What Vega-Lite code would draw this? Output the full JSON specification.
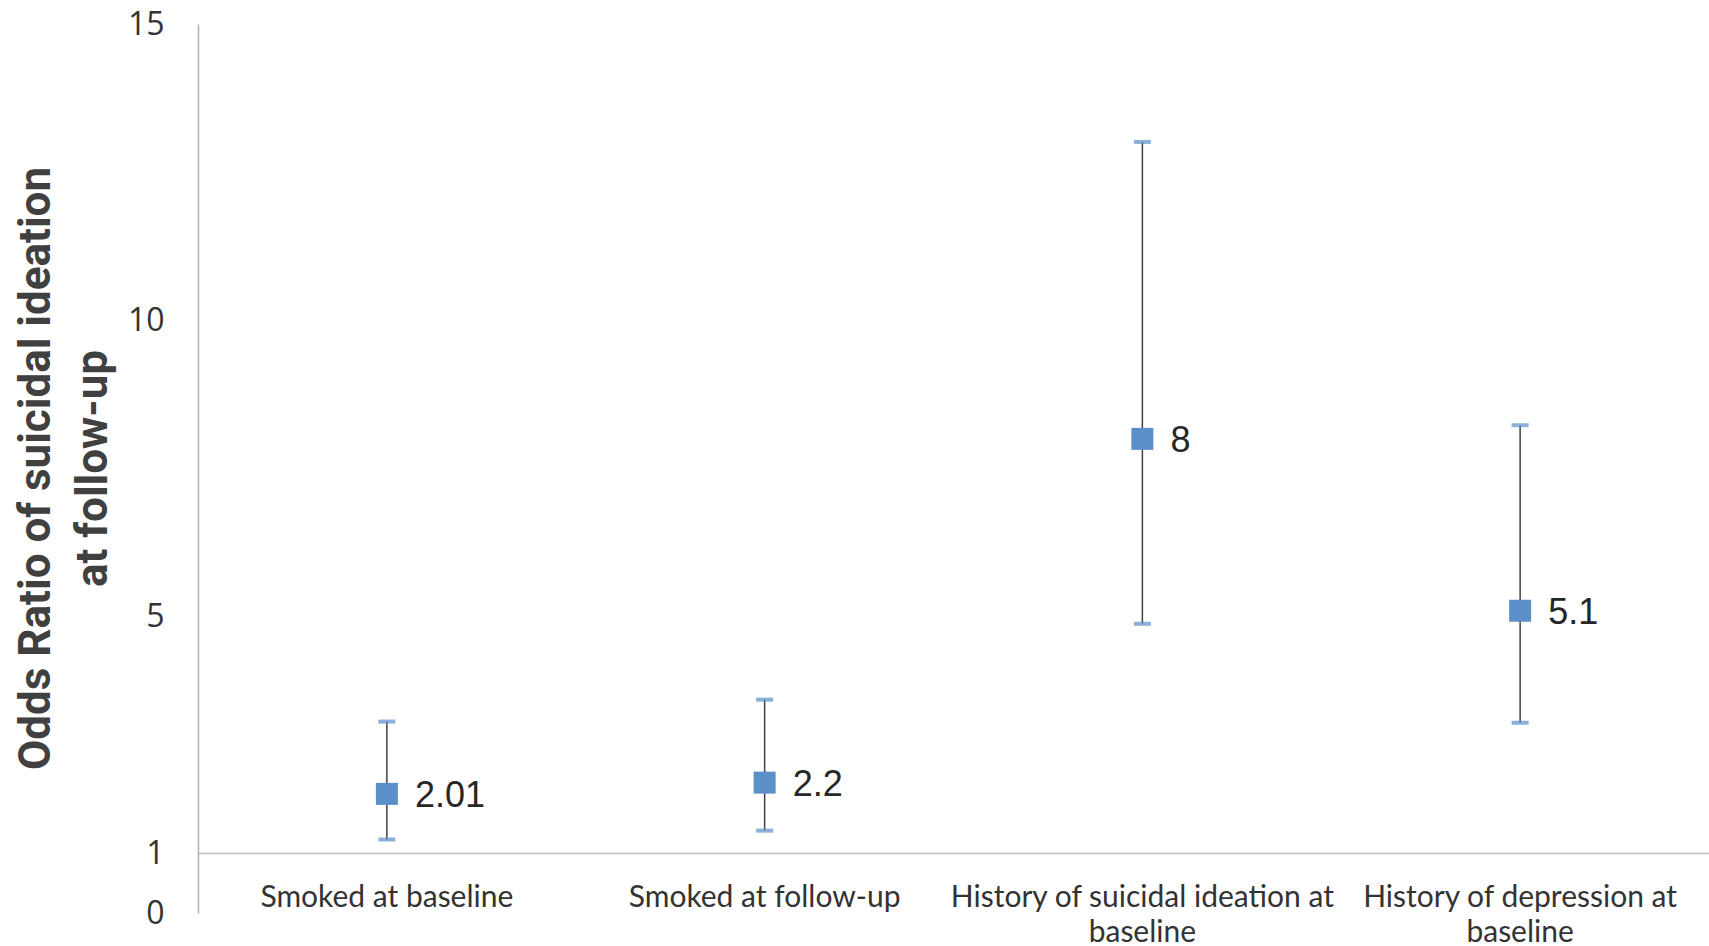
{
  "$schema": "https://vega.github.io/schema/vega-lite/v6.json",
  "width": 1511,
  "height": 889,
  "autosize": {"type": "none"},
  "padding": {"left": 198, "top": 24, "right": 0, "bottom": 33},
  "background": "white",
  "config": {"view": {"stroke": null}},
  "data": {
    "values": [
      {"factor": "Smoked at baseline", "or": 2.01, "lower": 1.24, "upper": 3.23},
      {"factor": "Smoked at follow-up", "or": 2.2, "lower": 1.39, "upper": 3.6},
      {"factor": "History of suicidal ideation at baseline", "or": 8, "lower": 4.88, "upper": 13.01},
      {"factor": "History of depression at baseline", "or": 5.1, "lower": 3.21, "upper": 8.23}
    ]
  },
  "encoding": {
    "x": {
      "field": "factor",
      "type": "nominal",
      "sort": null,
      "scale": {"paddingInner": 0, "paddingOuter": 0},
      "axis": {
        "title": null,
        "orient": "bottom",
        "offset": -60,
        "domainColor": "#bfbfbf",
        "domainWidth": 1.5,
        "ticks": false,
        "labelAngle": 0,
        "labelFont": "Lato",
        "labelFontSize": 30,
        "labelColor": "#333333",
        "labelPadding": 29,
        "labelBaseline": "top",
        "labelLineHeight": 35,
        "labelLimit": 500,
        "labelExpr": "datum.label == 'History of suicidal ideation at baseline' ? ['History of suicidal ideation at', 'baseline'] : datum.label == 'History of depression at baseline' ? ['History of depression at', 'baseline'] : datum.label"
      }
    }
  },
  "layer": [
    {
      "mark": {"type": "rule", "color": "#404040", "strokeWidth": 1.5},
      "encoding": {
        "y": {
          "field": "lower",
          "type": "quantitative",
          "scale": {"domain": [0, 15], "nice": false, "zero": false},
          "axis": {
            "title": ["Odds Ratio of suicidal ideation", "at follow-up"],
            "values": [0, 1, 5, 10, 15],
            "format": "d",
            "grid": false,
            "ticks": false,
            "domainColor": "#b0b0b0",
            "domainWidth": 1.5,
            "labelFont": "Open Sans",
            "labelFontSize": 32,
            "labelColor": "#333333",
            "labelPadding": 34,
            "labelFlush": false,
            "titleFont": "Roboto",
            "titleFontSize": 44,
            "titleFontWeight": "bold",
            "titleColor": "#404040",
            "titleLineHeight": 57,
            "titleAngle": -90,
            "titleAlign": "center",
            "titleBaseline": "middle",
            "titleX": -162,
            "titleY": 444
          }
        },
        "y2": {"field": "upper"}
      }
    },
    {
      "mark": {"type": "tick", "color": "#5b8fc9", "thickness": 4, "size": 17, "orient": "horizontal"},
      "encoding": {"y": {"field": "lower", "type": "quantitative"}}
    },
    {
      "mark": {"type": "tick", "color": "#5b8fc9", "thickness": 4, "size": 17, "orient": "horizontal"},
      "encoding": {"y": {"field": "upper", "type": "quantitative"}}
    },
    {
      "mark": {"type": "square", "color": "#5b8fc9", "opacity": 1, "size": 484},
      "encoding": {"y": {"field": "or", "type": "quantitative"}}
    },
    {
      "mark": {"type": "text", "align": "left", "baseline": "middle", "dx": 28, "dy": 2, "font": "Liberation Sans", "fontSize": 36, "color": "#262626"},
      "encoding": {
        "y": {"field": "or", "type": "quantitative"},
        "text": {"field": "or", "type": "quantitative"}
      }
    }
  ]
}
